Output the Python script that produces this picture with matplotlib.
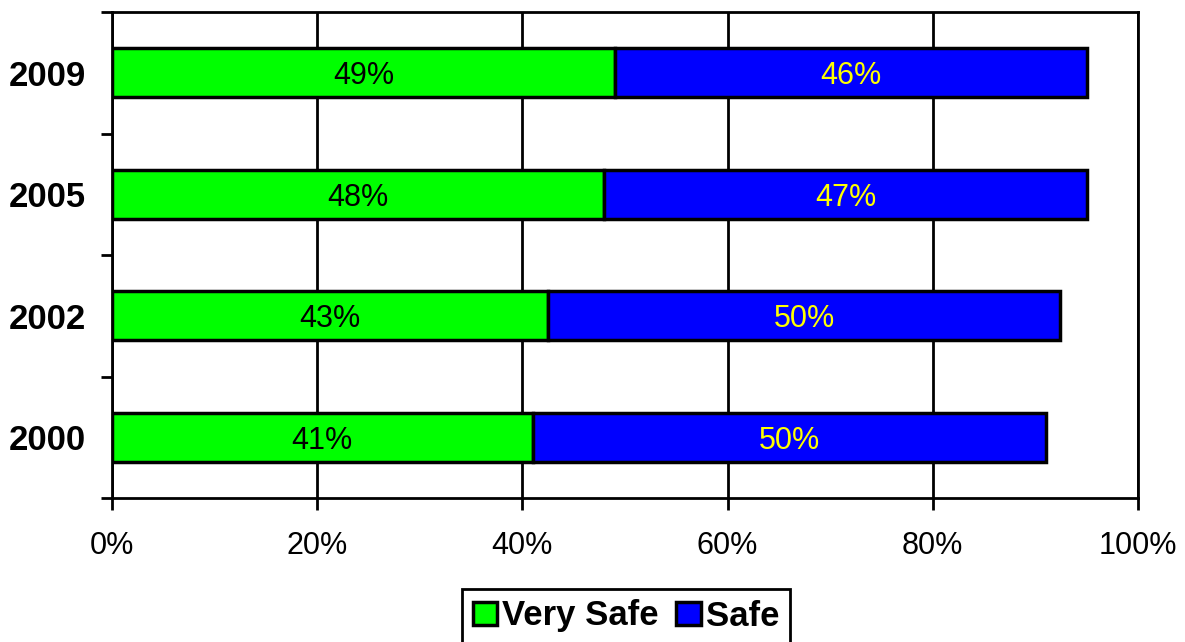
import matplotlib
matplotlib.use("Agg")
import matplotlib.pyplot as plt
from matplotlib.ticker import FixedLocator, NullFormatter
from matplotlib.patches import Patch

plt.rcParams['font.family'] = ['Liberation Sans', 'DejaVu Sans']

years = ["2000", "2002", "2005", "2009"]
very_safe = [41.0, 42.5, 48.0, 49.0]
safe = [50.0, 49.9, 47.0, 46.0]
very_safe_labels = ["41%", "43%", "48%", "49%"]
safe_labels = ["50%", "50%", "47%", "46%"]
xticks = [0, 20, 40, 60, 80, 100]
xtick_labels = ["0%", "20%", "40%", "60%", "80%", "100%"]

fig = plt.figure(figsize=(11.85, 6.42), dpi=100)
ax = fig.add_axes([112/1185, 1-498/642, (1138-112)/1185, (498-12)/642])

pos = list(range(len(years)))
h = 0.4
b1 = ax.barh(pos, very_safe, height=h, color="#00ff00", edgecolor="black",
             linewidth=2.5, label="Very Safe", zorder=3)
b2 = ax.barh(pos, safe, left=very_safe, height=h, color="#0000ff",
             edgecolor="black", linewidth=2.5, label="Safe", zorder=3)

for i in pos:
    ax.text(very_safe[i] / 2, i, very_safe_labels[i], ha="center", va="center_baseline",
            fontsize=22, color="black", zorder=4)
    ax.text(very_safe[i] + safe[i] / 2, i, safe_labels[i], ha="center",
            va="center_baseline", fontsize=22, color="#ffff00", zorder=4)

ax.set_xlim(0, 100)
ax.set_ylim(-0.5, len(years) - 0.5)
ax.set_xticks(xticks)
ax.set_xticklabels(xtick_labels, fontsize=22)
ax.set_yticks(pos)
ax.set_yticklabels(years, fontsize=25, fontweight="bold")
ax.tick_params(axis="y", length=0, pad=19)
ax.yaxis.set_minor_locator(FixedLocator([p - 0.5 for p in pos] + [len(years) - 0.5]))
ax.yaxis.set_minor_formatter(NullFormatter())
ax.tick_params(axis="y", which="minor", length=8, width=2, direction="out")
ax.tick_params(axis="x", length=8.5, width=2, direction="out", pad=15)

ax.grid(axis="x", color="black", linewidth=2, zorder=1)
for s in ax.spines.values():
    s.set_linewidth(2)
    s.set_color("black")

handles = [Patch(facecolor="#00ff00", edgecolor="black", linewidth=2.5, label="Very Safe"),
           Patch(facecolor="#0000ff", edgecolor="black", linewidth=2.5, label="Safe")]
leg = fig.legend(handles=handles, loc="center", bbox_to_anchor=(626/1185, 1-616/642),
                 ncol=2, frameon=True, fancybox=False, framealpha=1, handlelength=0.7,
                 handleheight=0.63, handletextpad=0.15, columnspacing=0.5,
                 borderpad=0.3, borderaxespad=0, prop={"size": 25, "weight": "bold"})
leg.get_frame().set_edgecolor("black")
leg.get_frame().set_linewidth(2)

fig.savefig("out.png", dpi=100)
